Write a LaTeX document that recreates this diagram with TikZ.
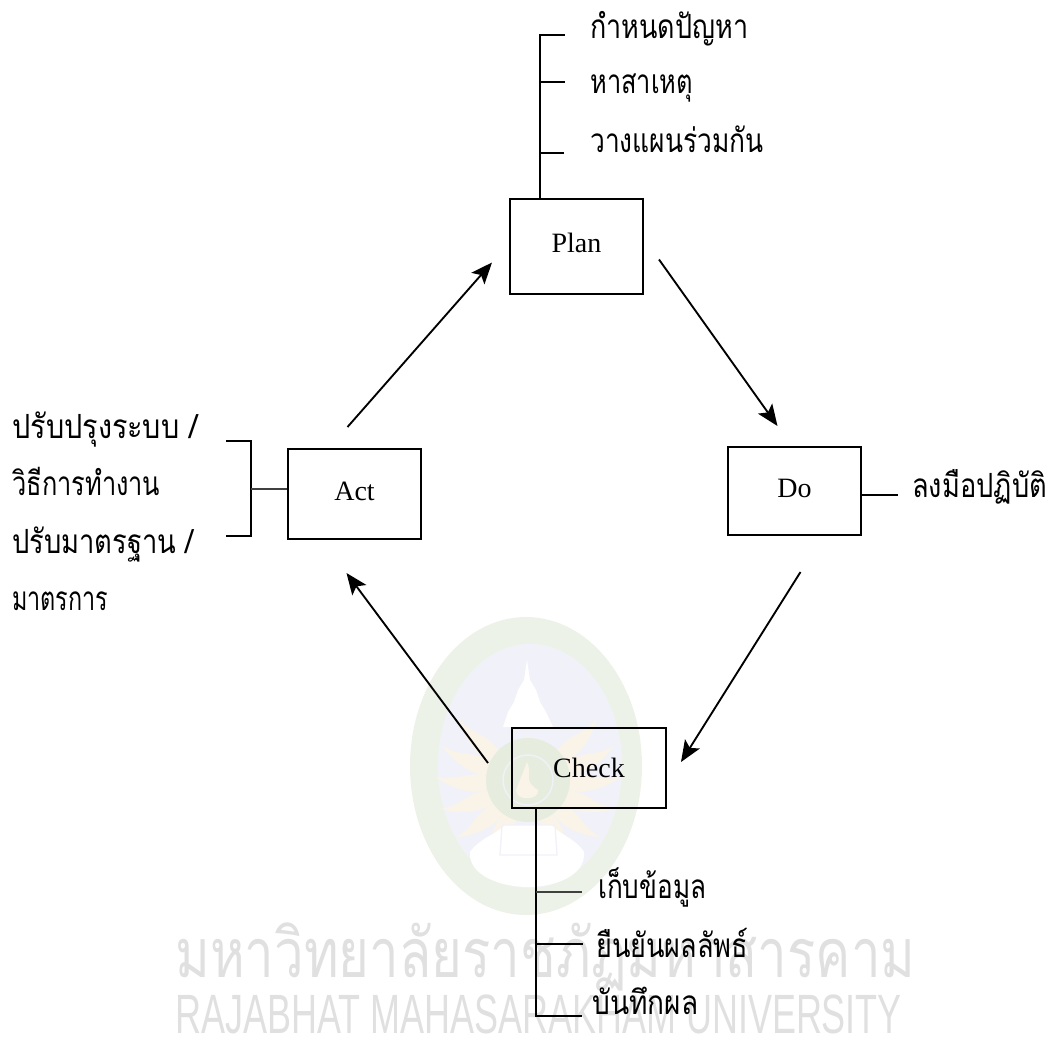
\documentclass[tikz,border=0pt]{standalone}
\usepackage{fontspec}
\usepackage{graphicx}
\setmainfont{Liberation Serif}
\newfontfamily\thaifont[Script=Thai]{Loma}
\usetikzlibrary{arrows.meta,calc}
\definecolor{sealouter}{HTML}{EDF2E8}
\definecolor{sealinner}{HTML}{F1F2F9}
\definecolor{sealdisk}{HTML}{E6EDDF}
\definecolor{sealray}{HTML}{FAF3E8}
\definecolor{wmtext}{HTML}{E0E0E0}
\tikzset{
  x=0.75pt,y=-0.75pt,
  boxnode/.style={draw=black,line width=1.5pt,rectangle,inner sep=0pt,text height=14.25pt,text depth=5.25pt,font=\fontsize{21}{21}\selectfont},
  lbl/.style={anchor=base west,inner sep=0pt,font=\thaifont\fontsize{25}{25}\selectfont},
  wire/.style={draw=black,line width=1.5pt},
  thin wire/.style={draw=black!75,line width=1.1pt},
  flow/.style={draw=black,line width=1.4pt,-{Stealth[length=16pt,width=13pt,inset=3.5pt]}},
  wm/.style={inner sep=0pt,text=wmtext,anchor=base west}
}
\newcommand{\fitw}[2]{\resizebox{#1pt}{\height}{#2}}
\begin{document}
\begin{tikzpicture}
\useasboundingbox (0,0) rectangle (1053,1039);
% watermark seal
\fill[sealouter] (526,766) ellipse [x radius=116,y radius=149];
\fill[sealinner] (530,766) ellipse [x radius=92,y radius=122];
\foreach \a in {-35,-15,5,25,45,65}{
  \fill[sealray,shift={(528,780)},rotate=\a] (-38,-6) .. controls (-58,-16) and (-72,-4) .. (-92,-11) .. controls (-72,5) and (-55,9) .. (-38,6) -- cycle;
  \fill[sealray,shift={(528,780)},rotate=-\a] (38,-6) .. controls (58,-16) and (72,-4) .. (92,-11) .. controls (72,5) and (55,9) .. (38,6) -- cycle;
}
\fill[white] (527,660) -- (530,680) -- (536,690) -- (540,702) -- (546,712) -- (553,727) -- (503,727) -- (508,712) -- (514,702) -- (518,690) -- (524,680) -- cycle;
\fill[sealdisk] (528,780) circle [radius=42];
\draw[sealinner,line width=1pt] (528,780) circle [radius=25];
\fill[sealray] (527,762) .. controls (533,775) and (522,780) .. (538,790) .. controls (540,800) and (516,802) .. (516,790) .. controls (520,780) and (522,775) .. (527,762) -- cycle;
\fill[white] (528,887) .. controls (500,887) and (468,875) .. (470,852) .. controls (480,838) and (495,835) .. (505,825) -- (552,825) .. controls (560,835) and (575,838) .. (584,852) .. controls (586,875) and (556,887) .. (528,887) -- cycle;
\draw[sealinner,line width=1pt] (502,825) -- (555,825) -- (557,855) -- (500,855) -- cycle;
% watermark text
\node[wm] (wmthai) at (175,977) {\resizebox{555pt}{41pt}{\thaifont มหาวิทยาลัยราชภัฏมหาสารคาม}};
\node[wm] (wmlatin) at (175,1033) {\resizebox{545pt}{29pt}{\fontspec{Liberation Sans}RAJABHAT MAHASARAKHAM UNIVERSITY}};
% boxes
\node[boxnode,minimum width=99.75pt,minimum height=71.25pt] (plan) at (576.5,246.5) {Plan};
\node[boxnode,minimum width=99.75pt,minimum height=67.5pt] (act) at (354.5,494) {Act};
\node[boxnode,minimum width=99.75pt,minimum height=66pt] (do) at (794.5,491) {Do};
\node[boxnode,minimum width=115.5pt,minimum height=60pt,text depth=0pt] (check) at (589,768) {Check};
% cycle arrows
\draw[flow] ([shift={(-7,-21)}]act.north) -- ([shift={(-17,16)}]plan.west);
\draw[flow] ([shift={(15,13)}]plan.east) -- ([shift={(-17,-20)}]do.north);
\draw[flow] ([shift={(6,36)}]do.south) -- ([shift={(14,-6)}]check.east);
\draw[flow] ([shift={(-23,-5)}]check.west) -- ([shift={(-8,33)}]act.south);
% plan branch
\coordinate (p1) at (565,35); \coordinate (p2) at (565,82); \coordinate (p3) at (564,153);
\draw[wire] (540,199) |- (p1);
\draw[wire] (540,82) -- (p2);
\draw[wire] (540,153) -- (p3);
\node[lbl] (t1) at (590,38) {\fitw{118.5}{กำหนดปัญหา}};
\node[lbl] (t2) at (590,93) {\fitw{77}{หาสาเหตุ}};
\node[lbl] (t3) at (590,152) {\fitw{130}{วางแผนร่วมกัน}};
% do branch
\coordinate (d1) at (898,494.5);
\draw[wire] (do.east |- d1) -- (d1);
\node[lbl] (t4) at (912,497) {\fitw{101}{ลงมือปฏิบัติ}};
% act branch
\coordinate (a1) at (226,441); \coordinate (a2) at (226,536); \coordinate (a3) at (251,489);
\draw[wire] (a1) -| (a3) |- (a2);
\draw[thin wire] (a3) -- (act.west |- a3);
\node[lbl] (t5) at (12,438) {\fitw{139}{ปรับปรุงระบบ /}};
\node[lbl] (t6) at (12,495) {\fitw{111}{วิธีการทำงาน}};
\node[lbl] (t7) at (12,553) {\fitw{136}{ปรับมาตรฐาน /}};
\node[lbl] (t8) at (12,610) {\fitw{72}{มาตรการ}};
% check branch
\coordinate (c1) at (582,892); \coordinate (c2) at (583,944); \coordinate (c3) at (582,1016);
\draw[wire] (536,808) |- (c3);
\draw[thin wire] (536,892) -- (c1);
\draw[wire] (536,944) -- (c2);
\node[lbl] (t9) at (598,898) {\fitw{81}{เก็บข้อมูล}};
\node[lbl] (t10) at (596,957) {\fitw{114}{ยืนยันผลลัพธ์}};
\node[lbl] (t11) at (592,1014) {\fitw{79.5}{บันทึกผล}};
\end{tikzpicture}
\end{document}
